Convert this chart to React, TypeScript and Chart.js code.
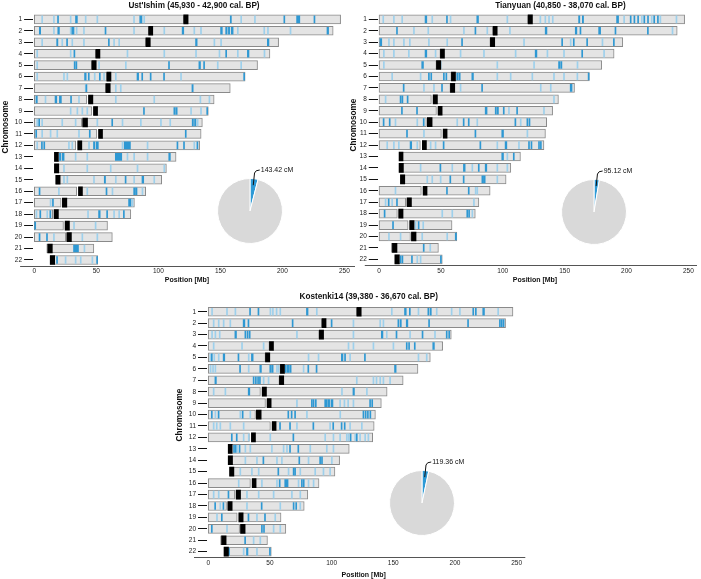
import React, { useEffect, useRef } from 'react';
import { Chart, registerables } from 'chart.js';
Chart.register(...registerables);

type Seg = [number, number]; // [start Mb, width Mb]

const FONT = "'Liberation Sans', Arial, Helvetica, sans-serif";

const CHROMS = ['1','2','3','4','5','6','7','8','9','10','11','12','13','14','15','16','17','18','19','20','21','22'];
const P_ARM_END: (number | null)[] = [120.5, 92.2, 90, 49.6, 46.4, 58.5, 57.7, 42.3, 46.4, 38.3, 50.4, 33.4, null, null, null, 34.2, 21.6, 14.8, 23.5, 25.4, null, null];
const CEN_START = [120.5, 92.2, 90, 49.6, 46.4, 58.5, 57.7, 43.7, 47.7, 39, 51.8, 35, 16.2, 16.2, 17.3, 35.6, 22.6, 15.9, 24.8, 26.2, 10.8, 12.8];
const CEN_END = [124, 95.5, 93.5, 52.9, 49.9, 61.8, 61.2, 47.2, 51, 42.9, 55, 38.3, 19.4, 19.7, 20.8, 38.8, 26.2, 19.4, 28.3, 29.9, 14.5, 16.4];
const Q_ARM_START = [120.5, 92.2, 90, 49.6, 46.4, 58.5, 57.7, 43.7, 47.7, 39, 51.8, 35, 16.2, 16.2, 17.3, 35.6, 22.6, 15.9, 24.8, 26.2, 10, 12.8];
const CHROM_END = [247, 241, 197, 190, 180, 170, 158, 145, 140.3, 135.5, 134.5, 133.3, 114.3, 106.5, 102.7, 89.8, 80.7, 77.8, 59, 62.9, 48, 51.1];

const X_TICK_STEP = 50;

const UST_ISHIM_SEGMENTS: Seg[][] = [
  [[5.9,.3],[15.4,.3],[18.7,.8],[28.9,.3],[33.2,1.5],[41,.3],[50.4,.3],[80,.3],[85,1.8],[88.2,.3],[158,.9],[166.4,.3],[177.5,.3],[201.2,.7],[211.5,2.6],[225.5,.8]],
  [[4,1.1],[15.4,.3],[18.9,1.3],[28.9,.3],[30.2,1.8],[33.7,.3],[39.6,.3],[57,.8],[80,.3],[104.4,.3],[119.2,1.3],[128.6,.3],[134,.3],[150.2,1.4],[154.3,1.2],[156.5,1],[158.8,1.5],[163.7,.3],[185,.3],[188,.3],[206.2,.3],[236,1.3]],
  [[5.9,.3],[18,1],[22.1,.3],[26,.6],[30.2,.3],[39.6,.3],[59.7,.6],[63.9,.3],[68,.3],[130,1.3],[144.8,.3],[150.2,.3],[187.9,1.3]],
  [[1.9,.3],[28.9,.3],[31.9,.6],[74.7,.3],[104.4,.3],[130,.3],[148.9,.3],[154.3,.6],[163.7,.3],[171.8,1.3],[185.2,.3]],
  [[1.9,.3],[32.1,.8],[33.5,.8],[51.8,.3],[73.4,.3],[108.2,.5],[132.7,1.3],[136.5,.6],[147.5,.3],[166.4,.3]],
  [[1.9,.3],[23.5,.3],[26.2,.3],[40.5,1.3],[43.5,.6],[48.3,.3],[52.4,.6],[55.8,.3],[65.3,.3],[82.8,1.3],[86.6,.6],[93.4,.6],[104.2,.5],[117.9,.3],[168.8,.8]],
  [[41,.3],[41.6,.5],[65.3,.3],[69.3,.3],[127.1,1]],
  [[1.3,1.1],[8.6,.3],[16.7,1.4],[20.2,1.6],[29.2,.6],[35.6,.3],[65.3,.3],[96.3,.3],[133.5,.3],[140.8,.3]],
  [[28.9,.3],[34.3,.3],[38.3,.3],[42.3,.3],[88,.6],[112.5,1.2],[114.3,.9],[126,.3],[134,.3],[139,.8]],
  [[1.9,.3],[3.5,.6],[5.9,.3],[22.1,.3],[32.9,.3],[50.4,.3],[62.4,.6],[70.7,.3],[85.5,.3],[101.7,.3],[109.2,.3],[127.3,1],[129.2,1.1],[131.3,.3]],
  [[1.1,.6],[5.9,.3],[12.7,.3],[18.1,.3],[35.6,.3],[44.3,.5],[121.7,.5]],
  [[1.9,.3],[5.7,.5],[7.6,.6],[27.5,.3],[30.2,.3],[43.7,.3],[47.7,1],[49.8,1.8],[70.7,.3],[72.5,5],[90.9,.3],[115,.6],[120.3,.6],[128.6,.3],[131.1,.6]],
  [[20.2,1.2],[22.5,1.5],[32.9,.3],[42.3,.3],[65.3,5.2],[74.7,.3],[80.1,.3],[90.9,.3],[108.4,1.3]],
  [[23.5,.3],[42.3,.3],[61.2,.3],[82.8,.3],[104.4,.3]],
  [[23.5,.3],[26.2,.3],[47.7,.3],[56.4,1],[65.3,.3],[73.2,.5],[80.1,.3],[86.8,1.4],[96.3,.3]],
  [[3.8,.5],[19.4,.3],[42.3,.3],[57.8,.5],[62.6,.3],[80.1,1],[81.6,1.2],[86.8,.3]],
  [[12.7,.3],[14.6,.6],[76,1.9],[78.8,.3]],
  [[1.3,.3],[4.4,.5],[10,.3],[12.5,.5],[42.9,.3],[51.8,1.3],[58.3,.5],[63.9,.3],[68,.3],[71.8,.5]],
  [[0.3,.6],[31.6,.3],[49,.3]],
  [[3.8,.5],[9.8,.5],[15.4,.3],[38.3,.3],[50.4,.3]],
  [[31.6,4],[40,.3]],
  [[17.9,.5],[24.8,.3],[32.9,.3],[37,.3],[46.4,.3],[50.2,.6]],
];

const TIANYUAN_SEGMENTS: Seg[][] = [
  [[3,.3],[11.6,.3],[18.3,.3],[37.2,1.4],[42.6,.3],[54.5,.6],[57.4,.3],[79,1.4],[103.3,.3],[130,.3],[134,.3],[137,.3],[140,.3],[161.3,1],[164.3,1],[192,1.6],[197.7,.3],[203,.6],[206,.6],[209,.6],[212,.3],[214,.6],[217,.6],[220,.3],[222,.6],[225,.6],[227,.3],[240,.3]],
  [[14.1,.5],[27.8,.3],[39.4,.3],[68.2,.3],[77.5,.5],[87.1,.3],[105.4,.3],[134.3,1.4],[158.6,1.3],[162.4,.5],[177.5,1.6],[190.7,.6],[216.9,.6],[236.8,.3]],
  [[0.8,1.4],[7.6,.3],[11.6,.3],[19.7,.3],[24.5,.3],[39.9,.3],[54.7,.3],[66.7,.5],[116.8,.3],[147.6,.6],[154.5,.3],[157,.6],[167.8,.5],[180.2,.3],[189.4,.6]],
  [[3.5,.3],[11.6,.3],[23.7,.3],[37.2,1.4],[45.3,.3],[65.5,.3],[84.4,.3],[110,.3],[126.2,1.4],[135.7,.3],[149.1,.3],[163.8,.5],[181.5,.3]],
  [[3.5,.3],[34.5,1.4],[49.2,.6],[95.2,.3],[124.9,.3],[145.1,1],[146.8,1],[160,.3]],
  [[10.2,.3],[33.2,.3],[39.9,.8],[41.8,.8],[52,.8],[54,.7],[62.8,1.2],[64.8,.7],[75,1.3],[95.2,.3],[106,.3],[123.5,.3],[141,.3],[149.1,.3],[159.9,.3],[169,.8]],
  [[19.5,.6],[35.9,.3],[44,.3],[50.5,.5],[65.5,.3],[82.9,.5],[130.3,.3],[138.4,.3],[154.5,1.5]],
  [[4.9,.3],[17,.9],[18.5,.7],[22.7,.5],[141,.3]],
  [[18.1,.5],[30.3,.5],[85.8,1.5],[93.9,.8],[95.3,1.2],[100.4,.5],[104.6,.3],[111.2,.5],[132.9,.3]],
  [[3.3,.5],[8.2,.5],[12.9,.3],[30.5,.3],[35.7,.5],[62.8,.3],[68,.6],[72.1,.6],[79,.3],[109.8,.5],[114.1,.3],[119.5,.8],[121.2,.8]],
  [[22.2,.5],[35.9,.3],[77.5,.5],[99.2,1.4],[119.5,.3]],
  [[6.2,.3],[11.6,.3],[15.6,.3],[25.1,1.3],[30.5,.3],[41.3,.3],[45.3,.3],[51.8,.5],[81.5,.5],[95.2,.3],[101.9,1.4],[112.7,.3],[120.8,.6],[122.8,.6],[128.9,.6],[130.4,.6]],
  [[99.2,1.4],[103.3,.3],[108.5,.5]],
  [[33.2,.3],[49.2,.6],[58.8,.3],[68.2,1.4],[75,.3],[80.2,.5],[85.8,1.3],[95.2,.3],[103.3,.3]],
  [[38.6,.3],[42.6,.3],[49.4,.3],[57.2,.5],[68,.6],[83.1,1.4],[84.9,.9],[95.2,.3]],
  [[12.9,.3],[54.5,.5],[72.1,.5],[77.7,.3],[79,.3]],
  [[4.9,.3],[7.4,.5],[10.2,.3],[14.1,.5],[76.3,.3]],
  [[4.1,.5],[50.7,.3],[58.8,.3],[70.9,.8],[72.4,.8],[75,.3]],
  [[10.9,.5],[29.1,.3],[31.6,.5],[35.3,.3]],
  [[7.6,.3],[17,.3],[34.5,.3],[54.7,.3],[61.6,1]],
  [[35.7,.5],[41,.3]],
  [[17,.8],[18.5,.6],[26.2,.5],[30.5,.3],[33.2,.3],[49.6,.8]],
];

const KOSTENKI14_SEGMENTS: Seg[][] = [
  [[2.7,.3],[14.8,.3],[21.6,.3],[33.5,.6],[40.3,.6],[50,.3],[52,.3],[55,.3],[58,.3],[79.6,1.3],[87.6,.3],[148.4,.3],[159.1,1.4],[163,.5],[170,.3],[178,1],[180,.7],[184.8,.3],[196.9,.3],[203.6,.3],[214.4,.8],[216.5,.7],[222.5,1.4],[234.6,.3]],
  [[4,.3],[8.1,.3],[12.1,.3],[17.5,.3],[28.3,1.4],[32.2,.5],[68,.5],[99.6,.8],[117.3,.3],[139,.3],[141.6,.3],[153.7,.9],[155.6,.9],[160.5,1.3],[178.6,.6],[210.2,.6],[236,.8],[237.5,.6],[239,.6]],
  [[2.7,.3],[5.4,.3],[8.9,.3],[21.6,1.3],[29.7,.6],[31.5,.6],[33.2,.6],[71.5,.3],[117.3,.3],[140.3,1.3],[144.3,.3],[152.2,.5],[163.2,.3],[173.3,.5],[183.4,.3],[192.9,.8],[194.9,.7]],
  [[4,.3],[27,.3],[44.5,.3],[113.3,.3],[117.3,.3],[133.5,.3],[149.7,.3],[160.5,.8],[162.4,.8],[167,.5],[182,1.3]],
  [[1.3,.3],[2.5,.5],[4.5,.3],[8.1,.3],[12.1,1.3],[24.1,.5],[32.4,.3],[35,1.4],[80.9,.3],[89,.3],[107.9,1.3],[110.5,.6],[114.6,.3],[126.6,.5],[170,.3],[176.7,.3]],
  [[1.5,.3],[3.5,.3],[5.4,.3],[25.4,.5],[32.4,.3],[41.8,1.3],[49.9,1.3],[51.8,.8],[55.3,.3],[56.6,.3],[62,1.2],[63.9,1.5],[66,1.2],[76.9,.3],[80.7,.6],[87.4,.5],[151,1.3]],
  [[5.4,1.2],[36.4,.5],[38.2,.5],[40,.6],[41.5,.4],[44.5,.3],[48.5,.3],[120,.3],[133.5,.3],[136,.3],[139,.3],[141.6,.3],[147,.3]],
  [[4,.3],[13.5,.3],[32.4,1.3],[108,.3],[117.3,1.2],[128.2,.3]],
  [[71.5,.3],[83.6,.6],[85,.6],[86.8,.8],[94.4,2],[97,1.4],[99.5,1.6],[106.5,.3],[110,.3],[113,.3],[117.3,.3],[130.8,.8],[132.5,.8]],
  [[2.5,.5],[5.4,.3],[8,.5],[25.6,.3],[27.5,.5],[33.7,.3],[64.5,.5],[67.2,.5],[70,.5],[79.6,.3],[106.6,.3],[125.4,.6],[127.2,.8],[129,.8],[131,.8]],
  [[4,.3],[6.5,.3],[9.4,.3],[17.5,.3],[28.3,.3],[57.8,.5],[65.9,.5],[71.5,.3],[84.8,.6],[98.4,.3],[100.9,.5],[107.7,.5],[110.2,.5],[114.6,.3],[124.1,.3]],
  [[18.7,.5],[22.7,.5],[28.3,.3],[32.4,.3],[49.9,.3],[68.6,.5],[94.4,.3],[101.1,.3],[106.5,.3],[111.9,.3],[113.3,.3],[115,.5],[118.7,.3],[120,.5],[122.7,.3],[126.8,.3],[129.4,.3]],
  [[20.5,.5],[21.8,.5],[23,.3],[25,.5],[29.7,.3],[33.7,.3],[51.2,.3],[60.7,.3],[63.4,.3],[65.9,.5],[72.6,.6],[82.3,.3],[95.7,.3],[101.1,.3]],
  [[29.7,.3],[39.1,.3],[44.3,.5],[55.3,.3],[59.3,.3],[73.4,.5],[80.9,.3],[90.3,.6],[91.8,.7],[99.8,.3]],
  [[25.6,.3],[35,.3],[40.5,.3],[56.4,.5],[64.7,.3],[68.8,.6],[70,.5],[74.2,.3],[86.3,.3],[93,.3],[98.4,.3]],
  [[24.3,.3],[43.1,.3],[55.3,.3],[57.5,.5],[62,2.7],[72.8,.3],[75.5,.6],[77,.5],[80.9,.3],[85,.3]],
  [[4,.3],[8.1,.3],[16,.5],[31,.3],[40.5,.3],[52.6,.3],[67.4,.3],[74.2,.3]],
  [[5.2,.5],[9.4,.3],[11.9,.5],[31,.3],[42.9,.5],[58,.3],[68.8,.5],[70.9,.6],[74.2,.3]],
  [[6.7,.3],[10.6,.5],[32.2,.5],[39.1,.3],[45.6,.5],[53.9,.3]],
  [[2.5,.5],[14.8,.3],[43.1,.6],[44.8,.5],[52.6,.3],[58,.3]],
  [[29.5,.5],[36.4,.3],[41.8,.3]],
  [[16.4,.8],[28.3,.3],[31,1.2],[39.1,.3],[49.6,.7]],
];

const PANEL_TITLES = [
  "Ust'Ishim (45,930 - 42,900 cal. BP)",
  'Tianyuan (40,850 - 38,070 cal. BP)',
  'Kostenki14 (39,380 - 36,670 cal. BP)',
];
const X_AXIS_TITLE = 'Position [Mb]';
const Y_AXIS_TITLE = 'Chromosome';

const PIE_SHARED_CM = [143.42, 95.12, 119.36];
const PIE_REST_CM = [3456.6, 3504.9, 3480.6];
const PIE_LABELS = ['143.42 cM', '95.12 cM', '119.36 cM'];

const BOX_FILL = '#e4e4e4';
const BOX_EDGE = '#8a8a8a';
const FAINT_BLUE = '#9dd0ec';
const STRONG_BLUE = '#2e98d3';
const PIE_GREY = '#d9d9d9';
const PIE_BLUE = '#2e9ad6';
const FAINT_MAX = 0.35;

function buildDatasets(segs: Seg[][]) {
  const ds: any[] = [];
  ds.push({
    data: CHROMS.map((_, i) => (P_ARM_END[i] == null ? null : [0, P_ARM_END[i] as number])),
    backgroundColor: BOX_FILL, borderColor: BOX_EDGE, borderWidth: 1, borderSkipped: false,
    barThickness: 9, grouped: false, order: 3,
  });
  ds.push({
    data: CHROMS.map((_, i) => [Q_ARM_START[i], CHROM_END[i]]),
    backgroundColor: BOX_FILL, borderColor: BOX_EDGE, borderWidth: 1, borderSkipped: false,
    barThickness: 9, grouped: false, order: 3,
  });
  const groups = [
    { faint: true, color: FAINT_BLUE, order: 2 },
    { faint: false, color: STRONG_BLUE, order: 1 },
  ];
  for (const g of groups) {
    const lists = segs.map((l) => l.filter((s) => (s[1] <= FAINT_MAX) === g.faint));
    const n = Math.max(...lists.map((l) => l.length));
    for (let j = 0; j < n; j++) {
      ds.push({
        data: lists.map((l) => (l[j] ? [l[j][0], l[j][0] + l[j][1]] : null)),
        backgroundColor: g.color, borderWidth: 0, barThickness: 7, minBarLength: 1,
        grouped: false, order: g.order,
      });
    }
  }
  ds.push({
    data: CHROMS.map((_, i) => [CEN_START[i], CEN_END[i]]),
    backgroundColor: '#000', borderWidth: 0, barThickness: 9, grouped: false, order: 0,
  });
  return ds;
}

type PanelCfg = {
  idx: number; segs: Seg[][];
  left: number; top: number; w: number; h: number;
  yW: number; xH: number; padTop: number; padRight: number; xMax: number;
  titleX: number; titleY: number; xTitleX: number; xTitleY: number; yTitleX: number; yTitleY: number;
};

const PANELS: PanelCfg[] = [
  { idx: 0, segs: UST_ISHIM_SEGMENTS, left: 0, top: 0, w: 360, h: 290, yW: 33.1, xH: 24.3, padTop: 13.6, padRight: 5, xMax: 258.6,
    titleX: 194, titleY: 6, xTitleX: 187, xTitleY: 280, yTitleX: 5.5, yTitleY: 127 },
  { idx: 1, segs: TIANYUAN_SEGMENTS, left: 350, top: 0, w: 351, h: 290, yW: 27.8, xH: 24.9, padTop: 13.6, padRight: 4, xMax: 257,
    titleX: 210.4, titleY: 6, xTitleX: 185, xTitleY: 280, yTitleX: 3.8, yTitleY: 125 },
  { idx: 2, segs: KOSTENKI14_SEGMENTS, left: 170, top: 290, w: 370, h: 289, yW: 37, xH: 21.6, padTop: 16, padRight: 14.7, xMax: 257,
    titleX: 198.7, titleY: 6.7, xTitleX: 193.7, xTitleY: 285, yTitleX: 10, yTitleY: 125 },
];

const PIE_POS = [
  { cx: 249.5, cy: 211 },
  { cx: 594, cy: 212 },
  { cx: 422, cy: 503 },
];

function Panel({ cfg }: { cfg: PanelCfg }) {
  const ref = useRef<HTMLCanvasElement>(null);
  useEffect(() => {
    const textPlugin = {
      id: 'panelText',
      afterDraw(chart: any) {
        const ctx = chart.ctx;
        const a = chart.chartArea;
        ctx.save();
        const yy = Math.round(a.bottom) + 0.5;
        ctx.strokeStyle = '#555';
        ctx.lineWidth = 1;
        ctx.beginPath();
        ctx.moveTo(a.left - 13, yy);
        ctx.lineTo(a.right, yy);
        ctx.stroke();
        ctx.fillStyle = '#111';
        ctx.textAlign = 'center';
        ctx.textBaseline = 'middle';
        ctx.font = `bold 8.2px ${FONT}`;
        ctx.fillText(PANEL_TITLES[cfg.idx], cfg.titleX, cfg.titleY);
        ctx.font = `bold 7px ${FONT}`;
        ctx.fillText(X_AXIS_TITLE, cfg.xTitleX, cfg.xTitleY);
        ctx.translate(cfg.yTitleX, cfg.yTitleY);
        ctx.rotate(-Math.PI / 2);
        ctx.font = `bold 8.2px ${FONT}`;
        ctx.fillText(Y_AXIS_TITLE, 0, 0);
        ctx.restore();
      },
    };
    const chart = new Chart(ref.current as HTMLCanvasElement, {
      type: 'bar',
      data: { labels: CHROMS, datasets: buildDatasets(cfg.segs) },
      options: {
        indexAxis: 'y',
        responsive: false,
        animation: false,
        layout: { padding: { top: cfg.padTop, right: cfg.padRight, left: 0, bottom: 0 } },
        plugins: { legend: { display: false }, tooltip: { enabled: false }, title: { display: false } },
        scales: {
          x: {
            type: 'linear', min: -1, max: cfg.xMax,
            grid: { display: false, drawTicks: false, tickLength: 0 }, border: { display: false },
            ticks: { stepSize: X_TICK_STEP, includeBounds: false, padding: 2, maxRotation: 0, color: '#222', font: { size: 6.5, family: FONT } },
            afterFit: (s: any) => { s.height = cfg.xH; },
          },
          y: {
            type: 'category',
            grid: { display: true, drawOnChartArea: false, drawTicks: true, tickLength: 9, offset: false, color: '#111', lineWidth: 1 },
            border: { display: false },
            ticks: { padding: 2, autoSkip: false, color: '#222', font: { size: 6.5, family: FONT } },
            afterFit: (s: any) => { s.width = cfg.yW; },
          },
        },
      } as any,
      plugins: [textPlugin],
    });
    return () => chart.destroy();
  }, []);
  return (
    <canvas ref={ref} width={cfg.w} height={cfg.h}
      style={{ position: 'absolute', left: cfg.left, top: cfg.top, width: cfg.w, height: cfg.h }} />
  );
}

function PieInset({ idx }: { idx: number }) {
  const ref = useRef<HTMLCanvasElement>(null);
  const { cx, cy } = PIE_POS[idx];
  const padTop = 22, padRight = 50, size = 66;
  const left = cx - size / 2, top = cy - size / 2 - padTop;
  const w = size + padRight, h = size + padTop;
  useEffect(() => {
    const labelPlugin = {
      id: 'pieLabel',
      afterDraw(chart: any) {
        const arc = chart.getDatasetMeta(0).data[0];
        const p = arc.getProps(['x', 'y', 'startAngle', 'endAngle', 'outerRadius'], true);
        const mid = (p.startAngle + p.endAngle) / 2;
        const r = p.outerRadius;
        const sx = p.x + Math.cos(mid) * r * 0.8;
        const sy = p.y + Math.sin(mid) * r * 0.8;
        const topY = p.y - r;
        const kx = sx + 1.3, ky = topY - 5.5;
        const ex = sx + 6.5, ey = topY - 8.5;
        const ctx = chart.ctx;
        ctx.save();
        ctx.strokeStyle = '#111';
        ctx.lineWidth = 1;
        ctx.beginPath();
        ctx.moveTo(sx, sy);
        ctx.lineTo(kx, ky);
        ctx.quadraticCurveTo(kx + 0.8, ey, ex, ey);
        ctx.stroke();
        ctx.fillStyle = '#111';
        ctx.font = `7px ${FONT}`;
        ctx.textAlign = 'left';
        ctx.textBaseline = 'middle';
        ctx.fillText(PIE_LABELS[idx], ex + 1, ey);
        ctx.restore();
      },
    };
    const chart = new Chart(ref.current as HTMLCanvasElement, {
      type: 'pie',
      data: {
        labels: ['shared', 'rest'],
        datasets: [{
          data: [PIE_SHARED_CM[idx], PIE_REST_CM[idx]],
          backgroundColor: [PIE_BLUE, PIE_GREY],
          borderColor: '#ffffff',
          borderWidth: 1,
        }],
      },
      options: {
        responsive: false,
        animation: false,
        layout: { padding: { top: padTop, right: padRight, left: 0, bottom: 0 } },
        plugins: { legend: { display: false }, tooltip: { enabled: false } },
      } as any,
      plugins: [labelPlugin],
    });
    return () => chart.destroy();
  }, []);
  return (
    <canvas ref={ref} width={w} height={h}
      style={{ position: 'absolute', left, top, width: w, height: h }} />
  );
}

export default function App() {
  return (
    <div style={{ position: 'absolute', left: 0, top: 0, width: 701, height: 579, background: '#fff' }}>
      {PANELS.map((p) => <Panel key={p.idx} cfg={p} />)}
      {[0, 1, 2].map((i) => <PieInset key={i} idx={i} />)}
    </div>
  );
}
